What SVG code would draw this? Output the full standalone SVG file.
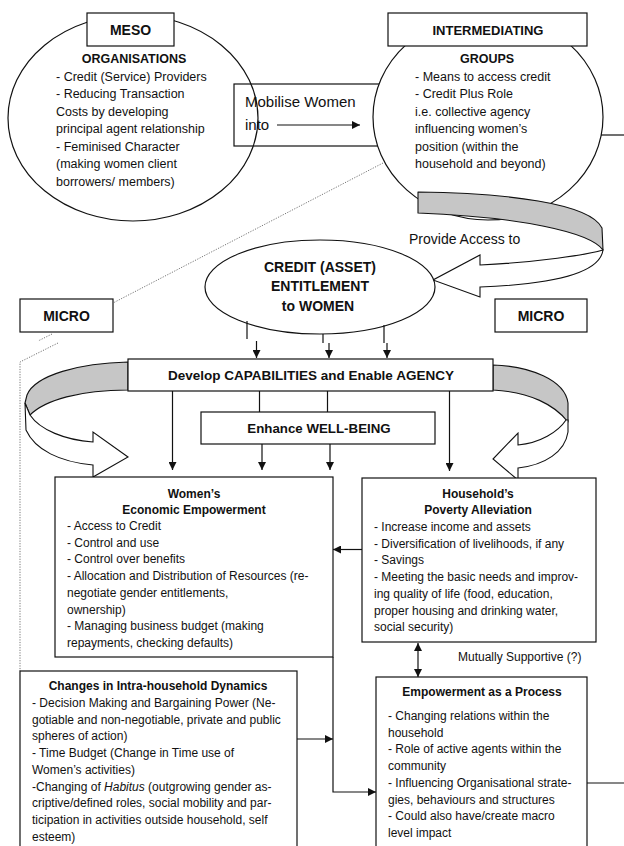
<svg xmlns="http://www.w3.org/2000/svg" width="624" height="846" viewBox="0 0 624 846">
<style>
  text { font-family: "Liberation Sans", Arial, sans-serif; fill: #111; }
  .b { font-weight: bold; }
  .c { text-anchor: middle; }
  .s12 { font-size: 12px; }
  .s125 { font-size: 12.5px; }
  .shape { fill: #fff; stroke: #111; stroke-width: 1.2; }
  .open { fill: none; stroke: #111; stroke-width: 1.2; }
  .ln { fill: none; stroke: #111; stroke-width: 1.2; }
  .dot { fill: none; stroke: #666; stroke-width: 0.9; stroke-dasharray: 1.2 1.4; }
  .gray { fill: #c6c6c6; stroke: #111; stroke-width: 1.1; stroke-linejoin: round; }
  .wht { fill: #fff; stroke: #111; stroke-width: 1.1; stroke-linejoin: miter; }
</style>
<defs>
  <marker id="ah" viewBox="0 0 10 10" refX="10" refY="5" markerWidth="8" markerHeight="8" markerUnits="userSpaceOnUse" orient="auto-start-reverse">
    <path d="M0,0 L10,5 L0,10 Z" fill="#111"/>
  </marker>
</defs>
<rect width="624" height="846" fill="#fff"/>

<g id="dotted-boundary">
  <path class="dot" d="M383,163 L113,303"/>
  <path class="dot" d="M52,334 L38,341"/>
  <path class="dot" d="M58,343 L20,362 L20,671"/>
</g>

<g id="meso">
  <ellipse class="shape" cx="133" cy="118" rx="125" ry="103"/>
  <rect class="shape" x="87" y="13" width="87" height="33"/>
  <text class="b c" x="130.5" y="34.5" font-size="14">MESO</text>
  <text class="b c s125" x="134" y="62.5">ORGANISATIONS</text>
  <text class="s125" x="56" y="80.5">- Credit (Service) Providers</text>
  <text class="s125" x="56" y="98">- Reducing Transaction</text>
  <text class="s125" x="56" y="115.6">Costs by developing</text>
  <text class="s125" x="56" y="133.2">principal agent relationship</text>
  <text class="s125" x="56" y="150.8">- Feminised Character</text>
  <text class="s125" x="56" y="168.4">(making women client</text>
  <text class="s125" x="56" y="186">borrowers/ members)</text>
</g>

<g id="mobilise">
  <rect class="open" x="234" y="84" width="160" height="62"/>
  <text x="245" y="107" font-size="15">Mobilise Women</text>
  <text x="245" y="130" font-size="15">into</text>
</g>

<g id="intermediating">
  <ellipse class="shape" cx="488" cy="117" rx="115" ry="103"/>
  <rect class="shape" x="388" y="13" width="199" height="33"/>
  <text class="b c" x="488" y="34.5" font-size="13">INTERMEDIATING</text>
  <text class="b c s125" x="487" y="62.5">GROUPS</text>
  <text class="s125" x="415" y="80.5">- Means to access credit</text>
  <text class="s125" x="415" y="98">- Credit Plus Role</text>
  <text class="s125" x="415" y="115.6">i.e. collective agency</text>
  <text class="s125" x="415" y="133.2">influencing women’s</text>
  <text class="s125" x="415" y="150.8">position (within the</text>
  <text class="s125" x="415" y="168.4">household and beyond)</text>
</g>

<g id="provide-access-arrow">
  <path class="gray" d="M418,192 C505,193 590,203 602,228 L603,250 C590,232 520,217 418,213 Z"/>
  <path class="wht" d="M603,250 C600,272 560,284 480,287 L480,297 L433,280 L480,255 L480,265 C540,262 585,255 603,250 Z"/>
  <text x="409" y="244" font-size="14">Provide Access to</text>
</g>

<g id="credit">
  <ellipse class="shape" cx="320" cy="287" rx="115" ry="47"/>
  <text class="b c" x="320" y="272" font-size="14">CREDIT (ASSET)</text>
  <text class="b c" x="320" y="291" font-size="14">ENTITLEMENT</text>
  <text class="b c" x="318" y="311" font-size="14">to WOMEN</text>
</g>

<g id="micro-left">
  <rect class="shape" x="20" y="299" width="93" height="33"/>
  <text class="b c" x="66.5" y="321" font-size="14">MICRO</text>
</g>
<g id="micro-right">
  <rect class="shape" x="495" y="299" width="92" height="33"/>
  <text class="b c" x="541" y="321" font-size="14">MICRO</text>
</g>

<g id="loop-left">
  <path class="gray" d="M128,362 C80,363 35,375 27,395 L25,403 L30,415 C45,400 80,390 128,390 Z"/>
  <path class="wht" d="M25,403 L26,430 C35,450 60,462 93,465 L93,477 L128,457 L93,432 L93,442 C65,440 40,430 30,415 Z"/>
</g>
<g id="loop-right">
  <path class="gray" d="M493,365 C530,366 565,380 568,403 L568,422 C555,405 530,392 493,390 Z"/>
  <path class="wht" d="M568,420 L568,432 C565,452 545,465 518,468 L518,480 L493,459 L518,433 L518,445 C540,443 558,432 566,420 Z"/>
</g>

<g id="capabilities">
  <rect class="shape" x="128" y="359" width="365" height="32"/>
  <text class="b c" x="311" y="380" font-size="13.5">Develop CAPABILITIES and Enable AGENCY</text>
</g>

<g id="well-being">
  <rect class="shape" x="201" y="412" width="234" height="32"/>
  <text class="b c" x="319" y="433" font-size="13.3">Enhance WELL-BEING</text>
</g>

<g id="womens-empowerment">
  <rect class="shape" x="55" y="477" width="278" height="180"/>
  <text class="b c s12" x="194" y="497.5">Women’s</text>
  <text class="b c s12" x="194" y="514">Economic Empowerment</text>
  <text class="s12" x="67" y="530">- Access to Credit</text>
  <text class="s12" x="67" y="546.7">- Control and use</text>
  <text class="s12" x="67" y="563.4">- Control over benefits</text>
  <text class="s12" x="67" y="580.1">- Allocation and Distribution of Resources (re-</text>
  <text class="s12" x="67" y="596.8">negotiate gender entitlements,</text>
  <text class="s12" x="67" y="613.5">ownership)</text>
  <text class="s12" x="67" y="630.2">- Managing business budget (making</text>
  <text class="s12" x="67" y="646.9">repayments, checking defaults)</text>
</g>

<g id="household-poverty">
  <rect class="shape" x="362" y="478" width="234" height="164"/>
  <text class="b c s12" x="478" y="497.5">Household’s</text>
  <text class="b c s12" x="478" y="514">Poverty Alleviation</text>
  <text class="s12" x="374" y="531">- Increase income and assets</text>
  <text class="s12" x="374" y="547.7">- Diversification of livelihoods, if any</text>
  <text class="s12" x="374" y="564.4">- Savings</text>
  <text class="s12" x="374" y="581.1">- Meeting the basic needs and improv-</text>
  <text class="s12" x="374" y="597.8">ing quality of life (food, education,</text>
  <text class="s12" x="374" y="614.5">proper housing and drinking water,</text>
  <text class="s12" x="374" y="631.2">social security)</text>
</g>

<g id="mutually-label">
  <text class="s12" x="458" y="661">Mutually Supportive (?)</text>
</g>

<g id="empowerment-process">
  <rect class="shape" x="376" y="677" width="211" height="190"/>
  <text class="b c s12" x="482" y="696">Empowerment as a Process</text>
  <text class="s12" x="388" y="720">- Changing relations within the</text>
  <text class="s12" x="388" y="736.7">household</text>
  <text class="s12" x="388" y="753.4">- Role of active agents within the</text>
  <text class="s12" x="388" y="770.1">community</text>
  <text class="s12" x="388" y="786.8">- Influencing Organisational strate-</text>
  <text class="s12" x="388" y="803.5">gies, behaviours and structures</text>
  <text class="s12" x="388" y="820.2">- Could also have/create macro</text>
  <text class="s12" x="388" y="836.9">level impact</text>
</g>

<g id="intra-household">
  <rect class="shape" x="20" y="671" width="277" height="196"/>
  <text class="b c s12" x="158" y="690">Changes in Intra-household Dynamics</text>
  <text class="s12" x="32" y="707">- Decision Making and Bargaining Power (Ne-</text>
  <text class="s12" x="32" y="723.7">gotiable and non-negotiable, private and public</text>
  <text class="s12" x="32" y="740.4">spheres of action)</text>
  <text class="s12" x="32" y="757.1">- Time Budget (Change in Time use of</text>
  <text class="s12" x="32" y="773.8">Women’s activities)</text>
  <text class="s12" x="32" y="790.5">-Changing of <tspan font-style="italic">Habitus</tspan> (outgrowing gender as-</text>
  <text class="s12" x="32" y="807.2">criptive/defined roles, social mobility and par-</text>
  <text class="s12" x="32" y="823.9">ticipation in activities outside household, self</text>
  <text class="s12" x="32" y="840.6">esteem)</text>
</g>

<g id="connectors">
  <path class="ln" d="M277,125 L360,125" marker-end="url(#ah)"/>
  <path class="ln" d="M601,135 L624,135"/>
  <path class="ln" d="M247,321 L247,339"/>
  <path class="ln" d="M256.5,341 L256.5,358" marker-end="url(#ah)"/>
  <path class="ln" d="M323,334 L323,343"/>
  <path class="ln" d="M329,343 L329,358" marker-end="url(#ah)"/>
  <path class="ln" d="M384,325 L384,343"/>
  <path class="ln" d="M387,343 L387,358" marker-end="url(#ah)"/>
  <path class="ln" d="M172.5,391 L172.5,470" marker-end="url(#ah)"/>
  <path class="ln" d="M259.5,391 L259.5,412"/>
  <path class="ln" d="M327.5,391 L327.5,412"/>
  <path class="ln" d="M449.5,391 L449.5,471" marker-end="url(#ah)"/>
  <path class="ln" d="M262,444 L262,470" marker-end="url(#ah)"/>
  <path class="ln" d="M330,444 L330,470" marker-end="url(#ah)"/>
  <path class="ln" d="M362,549.5 L333,549.5" marker-end="url(#ah)"/>
  <path class="ln" d="M418,643 L418,677" marker-start="url(#ah)" marker-end="url(#ah)"/>
  <path class="ln" d="M333,657 L333,792 L376,792" marker-end="url(#ah)"/>
  <path class="ln" d="M297,739 L333,739" marker-end="url(#ah)"/>
  <path class="ln" d="M587,783 L624,783"/>
</g>
</svg>
